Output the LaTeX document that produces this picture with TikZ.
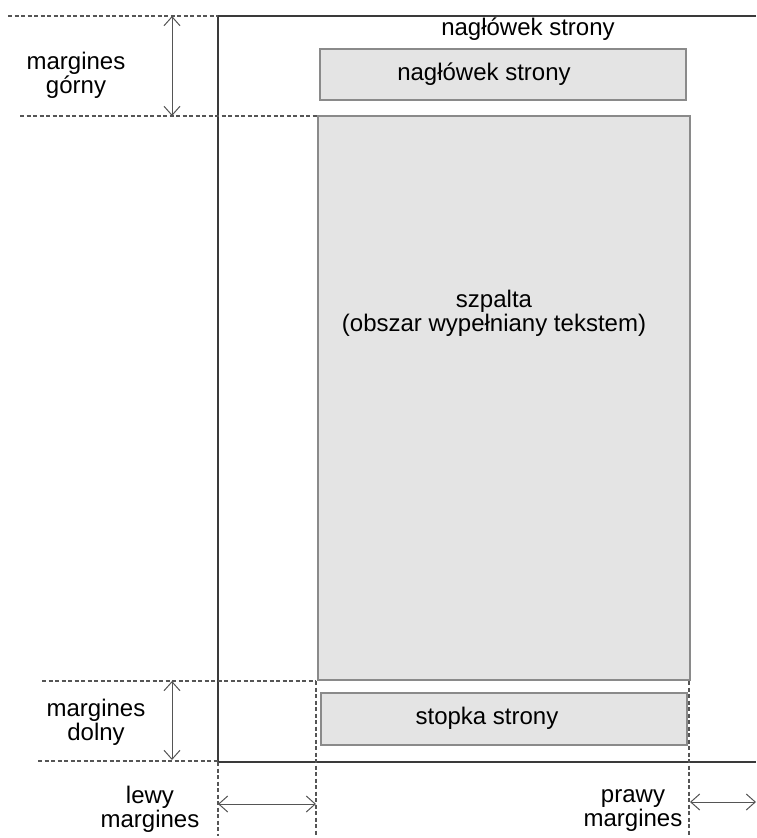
\documentclass[tikz,border=0pt]{standalone}
\usepackage{fontspec}
\setmainfont{Liberation Sans}
\usetikzlibrary{arrows.meta}
\definecolor{boxfill}{HTML}{E4E4E4}
\definecolor{boxline}{HTML}{8A8A8A}
\definecolor{pageline}{HTML}{3A3A3A}
\definecolor{dimline}{HTML}{555555}
\begin{document}
\begin{tikzpicture}[x=1pt,y=-1pt,
  every node/.style={font=\fontsize{24}{24}\selectfont, inner sep=0pt, outer sep=0pt},
  lbl/.style={align=center, anchor=base},
  areabox/.style={draw=boxline, fill=boxfill, line width=1.4pt},
  pagebord/.style={draw=pageline, line width=1.2pt},
  guide/.style={draw=dimline, line width=1.1pt, dash pattern=on 4pt off 2.5pt},
  dimarrow/.style={draw=dimline, line width=1pt, {Straight Barb[length=9pt,width=16pt]}-{Straight Barb[length=9pt,width=16pt]}}
]
\useasboundingbox (0,0) rectangle (756,838);
% page
\coordinate (pTL) at (218,16);
\coordinate (pTR) at (756,16);
\coordinate (pBL) at (218,762);
\coordinate (pBR) at (756,762);
\draw[pagebord] (pTR) -- (pTL) -- (pBL) -- (pBR);
% boxes
\node[areabox, minimum width=366pt, minimum height=51pt, anchor=north west] (head) at (320,49) {};
\node[areabox, minimum width=372pt, minimum height=564pt, anchor=north west] (col) at (318,116) {};
\node[areabox, minimum width=366pt, minimum height=52pt, anchor=north west] (foot) at (321,693) {};
% texts
\node[lbl] (tophead) at (528,35) {nagłówek strony};
\node[lbl] (headtxt) at (484,80) {nagłówek strony};
\node[lbl] (coltxt1) at (494,307) {szpalta};
\node[lbl] (coltxt2) at (494,331) {(obszar wypełniany tekstem)};
\node[lbl] (foottxt) at (487,724) {stopka strony};
\node[lbl] (mgtxt) at (76,93) {margines\\górny};
\node[lbl] (mdtxt) at (96,740) {margines\\dolny};
\node[lbl] (mltxt) at (150,827) {lewy\\margines};
\node[lbl] (mptxt) at (633,826) {prawy\\margines};
% guide lines
\coordinate (g1a) at (8,16);
\coordinate (g2a) at (20,116);
\coordinate (g2b) at (318,116);
\coordinate (g3a) at (42,681);
\coordinate (g3b) at (316,681);
\coordinate (g4a) at (38,761);
\coordinate (g4b) at (218,761);
\coordinate (v1b) at (218,836);
\coordinate (v2a) at (316,681);
\coordinate (v2b) at (316,836);
\coordinate (v3a) at (689,681);
\coordinate (v3b) at (689,836);
\draw[guide] (g1a) -- (pTL);
\draw[guide] (g2a) -- (g2b);
\draw[guide] (g3a) -- (g3b);
\draw[guide] (g4a) -- (g4b);
\draw[guide] (pBL) -- (v1b);
\draw[guide] (v2a) -- (v2b);
\draw[guide] (v3a) -- (v3b);
% dimension arrows
\coordinate (a1a) at (172,16);
\coordinate (a1b) at (172,116);
\coordinate (a2a) at (172,681);
\coordinate (a2b) at (172,760);
\coordinate (a3a) at (218,804);
\coordinate (a3b) at (316,804);
\coordinate (a4a) at (690,802);
\coordinate (a4b) at (756,802);
\draw[dimarrow] (a1a) -- (a1b);
\draw[dimarrow] (a2a) -- (a2b);
\draw[dimarrow] (a3a) -- (a3b);
\draw[dimarrow] (a4a) -- (a4b);
\end{tikzpicture}
\end{document}
